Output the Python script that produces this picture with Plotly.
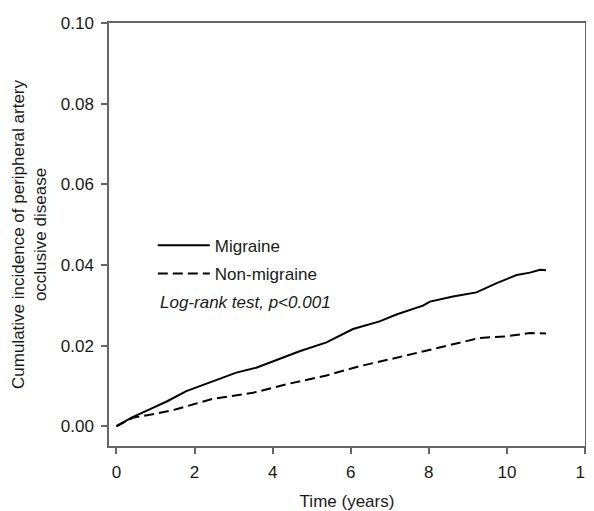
import plotly.graph_objects as go

# Data
migraine_t = [0, 0.4, 0.85, 1.3, 1.79, 2.4, 3.07, 3.58, 4.0, 4.69, 5.38, 6.06, 6.74,
              7.17, 7.85, 8.03, 8.62, 9.22, 9.74, 10.25, 10.59, 10.85, 11.0]
migraine_v = [0, 0.0022, 0.0042, 0.0062, 0.0087, 0.0108, 0.0133, 0.0145, 0.0161, 0.0186,
              0.0208, 0.0241, 0.0260, 0.0277, 0.0299, 0.0309, 0.0322, 0.0332, 0.0355,
              0.0375, 0.0381, 0.0388, 0.0387]

nonmig_t = [0, 0.42, 1.0, 1.53, 2.0, 2.47, 3.5, 4.35, 5.38, 6.23, 7.0, 8.03, 8.6,
            9.31, 9.99, 10.59, 11.0]
nonmig_v = [0, 0.0021, 0.0031, 0.0042, 0.0055, 0.0068, 0.0083, 0.0104, 0.0126, 0.0149,
            0.0166, 0.0190, 0.0203, 0.0219, 0.0223, 0.0231, 0.0230]

x_ticks = [0, 2, 4, 6, 8, 10, 12]
y_ticks = [0.00, 0.02, 0.04, 0.06, 0.08, 0.10]
y_tick_labels = ["0.00", "0.02", "0.04", "0.06", "0.08", "0.10"]

FONT = "Liberation Sans, Arial, sans-serif"
TXT = "#1a1a1a"
AX = "#666666"

fig = go.Figure()
fig.add_trace(go.Scatter(x=migraine_t, y=migraine_v, mode="lines", name="Migraine",
                         legendgroup="a",
                         line=dict(color="black", width=2)))
fig.add_trace(go.Scatter(x=nonmig_t, y=nonmig_v, mode="lines", name="Non-migraine",
                         legendgroup="b",
                         line=dict(color="black", width=2, dash="10px,5px")))

fig.add_annotation(text="<i>Log-rank test, p<0.001</i>", xref="paper", yref="paper",
                   x=0.103, y=0.34, xanchor="left", yanchor="middle", showarrow=False,
                   font=dict(family=FONT, size=17, color=TXT))

axis_common = dict(showline=True, linecolor=AX, linewidth=1.5, mirror=True,
                   ticks="outside", ticklen=6, tickwidth=1.5, tickcolor=AX,
                   showgrid=False, zeroline=False, automargin=False,
                   ticklabeloverflow="allow",
                   tickfont=dict(family=FONT, size=17, color=TXT))

# page body adds an 8px offset, so the figure is 8px smaller on each axis
fig.update_layout(
    width=586, height=503,
    margin=dict(l=101, r=9, t=15, b=65),
    paper_bgcolor="white", plot_bgcolor="white",
    showlegend=True,
    legend=dict(x=0.092, y=0.516, xanchor="left", yanchor="top",
                font=dict(family=FONT, size=17, color=TXT),
                bgcolor="rgba(0,0,0,0)", traceorder="grouped", tracegroupgap=3,
                itemwidth=52),
    xaxis=dict(range=[-0.19, 12], tickvals=x_ticks, ticklabelstandoff=4,
               title=dict(text="Time (years)", font=dict(family=FONT, size=17, color=TXT),
                          standoff=16),
               **axis_common),
    yaxis=dict(range=[-0.0049, 0.1], tickvals=y_ticks, ticktext=y_tick_labels,
               ticklabelstandoff=4,
               title=dict(text="Cumulative incidence of peripheral artery<br>occlusive disease",
                          font=dict(family=FONT, size=17, color=TXT), standoff=10),
               **axis_common),
)

fig.write_html("out.html")
